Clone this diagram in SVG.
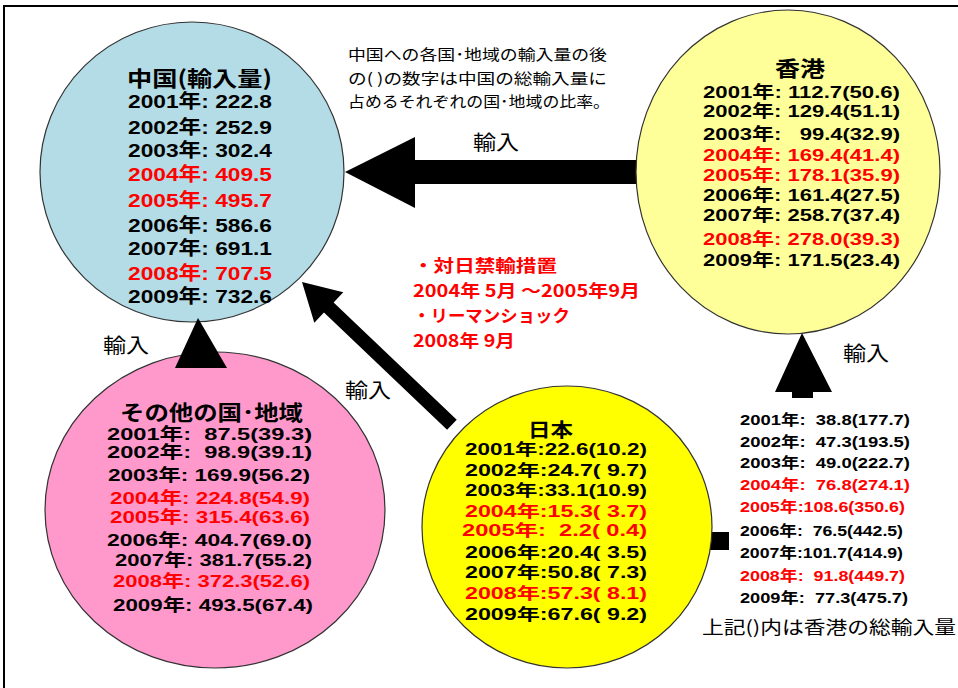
<svg xmlns="http://www.w3.org/2000/svg" width="958" height="688" viewBox="0 0 958 688">
<style>
.c{stroke:#333;stroke-width:1.2}
.d{font-family:"Liberation Sans","Noto Sans CJK JP",sans-serif;font-weight:bold;fill:#000;white-space:pre}
.t{font-family:"Noto Sans CJK JP","Noto Sans",sans-serif;font-weight:bold;fill:#000}
.r{fill:#ff0000}
.n{font-family:"Noto Sans CJK JP","Noto Sans",sans-serif;font-weight:normal;fill:#000;white-space:pre}
.a{fill:#000}
</style>
<rect x="0" y="0" width="958" height="688" fill="#fff"/>
<rect x="4" y="6" width="970" height="700" fill="none" stroke="#000" stroke-width="2"/>

<g id="connectors">
<polygon class="a" points="345,172 415,137 415,160 640,160 640,184 415,184 415,208"/>
<polygon class="a" points="0,0 37,-21 37,-7 207,-7 207,7 37,7 37,21" transform="translate(302,282) rotate(43.6)"/>
<polygon class="a" points="802,333 832,392 813,392 813,398 792,398 792,392 775,392"/>
<rect class="a" x="698" y="532" width="31" height="18"/>
<text class="n" x="473" y="150" font-size="20" textLength="46" lengthAdjust="spacingAndGlyphs">輸入</text>
<text class="n" x="345" y="398" font-size="20" textLength="46" lengthAdjust="spacingAndGlyphs">輸入</text>
<text class="n" x="103" y="353" font-size="20" textLength="46" lengthAdjust="spacingAndGlyphs">輸入</text>
<text class="n" x="843" y="361" font-size="20" textLength="46" lengthAdjust="spacingAndGlyphs">輸入</text>
</g>

<g id="china">
<ellipse class="c" cx="192" cy="172" rx="152" ry="150" fill="#b4dce6"/>
<text class="t" font-size="21" x="127" y="86" textLength="145" lengthAdjust="spacingAndGlyphs">中国(輸入量)</text>
<g font-size="19">
<text class="d" x="128" y="108" textLength="144" lengthAdjust="spacingAndGlyphs">2001年: 222.8</text>
<text class="d" x="128" y="134" textLength="144" lengthAdjust="spacingAndGlyphs">2002年: 252.9</text>
<text class="d" x="128" y="157" textLength="144" lengthAdjust="spacingAndGlyphs">2003年: 302.4</text>
<text class="d r" x="128" y="181" textLength="144" lengthAdjust="spacingAndGlyphs">2004年: 409.5</text>
<text class="d r" x="128" y="207" textLength="144" lengthAdjust="spacingAndGlyphs">2005年: 495.7</text>
<text class="d" x="128" y="232" textLength="144" lengthAdjust="spacingAndGlyphs">2006年: 586.6</text>
<text class="d" x="128" y="255" textLength="144" lengthAdjust="spacingAndGlyphs">2007年: 691.1</text>
<text class="d r" x="128" y="280" textLength="144" lengthAdjust="spacingAndGlyphs">2008年: 707.5</text>
<text class="d" x="128" y="303" textLength="144" lengthAdjust="spacingAndGlyphs">2009年: 732.6</text>
</g>
</g>

<g id="hongkong">
<ellipse class="c" cx="788" cy="172" rx="152" ry="162" fill="#ffff99"/>
<text class="t" font-size="21" x="775" y="76" textLength="50" lengthAdjust="spacingAndGlyphs">香港</text>
<g font-size="17">
<text class="d" x="703" y="98" textLength="197" lengthAdjust="spacingAndGlyphs">2001年: 112.7(50.6)</text>
<text class="d" x="703" y="117" textLength="197" lengthAdjust="spacingAndGlyphs">2002年: 129.4(51.1)</text>
<text class="d" x="703" y="140" textLength="197" lengthAdjust="spacingAndGlyphs">2003年:   99.4(32.9)</text>
<text class="d r" x="703" y="161" textLength="197" lengthAdjust="spacingAndGlyphs">2004年: 169.4(41.4)</text>
<text class="d r" x="703" y="181" textLength="197" lengthAdjust="spacingAndGlyphs">2005年: 178.1(35.9)</text>
<text class="d" x="703" y="201" textLength="197" lengthAdjust="spacingAndGlyphs">2006年: 161.4(27.5)</text>
<text class="d" x="703" y="221" textLength="197" lengthAdjust="spacingAndGlyphs">2007年: 258.7(37.4)</text>
<text class="d r" x="703" y="245" textLength="197" lengthAdjust="spacingAndGlyphs">2008年: 278.0(39.3)</text>
<text class="d" x="703" y="266" textLength="197" lengthAdjust="spacingAndGlyphs">2009年: 171.5(23.4)</text>
</g>
</g>

<g id="others">
<ellipse class="c" cx="215" cy="510" rx="170" ry="158" fill="#ff99cc"/>
<polygon class="a" points="198,318 227,368 175,368"/>
<text class="t" font-size="21" x="120" y="420" textLength="183" lengthAdjust="spacingAndGlyphs">その他の国･地域</text>
<g font-size="17">
<text class="d" x="107" y="440" textLength="205" lengthAdjust="spacingAndGlyphs">2001年:  87.5(39.3)</text>
<text class="d" x="107" y="458" textLength="205" lengthAdjust="spacingAndGlyphs">2002年:  98.9(39.1)</text>
<text class="d" x="108" y="481" textLength="202" lengthAdjust="spacingAndGlyphs">2003年: 169.9(56.2)</text>
<text class="d r" x="110" y="504" textLength="200" lengthAdjust="spacingAndGlyphs">2004年: 224.8(54.9)</text>
<text class="d r" x="110" y="523" textLength="200" lengthAdjust="spacingAndGlyphs">2005年: 315.4(63.6)</text>
<text class="d" x="107" y="546" textLength="205" lengthAdjust="spacingAndGlyphs">2006年: 404.7(69.0)</text>
<text class="d" x="115" y="566" textLength="197" lengthAdjust="spacingAndGlyphs">2007年: 381.7(55.2)</text>
<text class="d r" x="113" y="587" textLength="197" lengthAdjust="spacingAndGlyphs">2008年: 372.3(52.6)</text>
<text class="d" x="113" y="611" textLength="200" lengthAdjust="spacingAndGlyphs">2009年: 493.5(67.4)</text>
</g>
</g>

<g id="japan">
<ellipse class="c" cx="567" cy="527" rx="145" ry="141" fill="#ffff00"/>
<text class="t" font-size="19" x="528" y="437" textLength="45" lengthAdjust="spacingAndGlyphs">日本</text>
<g font-size="16">
<text class="d" x="465" y="455" textLength="182" lengthAdjust="spacingAndGlyphs">2001年:22.6(10.2)</text>
<text class="d" x="465" y="476" textLength="182" lengthAdjust="spacingAndGlyphs">2002年:24.7( 9.7)</text>
<text class="d" x="465" y="496" textLength="182" lengthAdjust="spacingAndGlyphs">2003年:33.1(10.9)</text>
<text class="d r" x="465" y="517" textLength="182" lengthAdjust="spacingAndGlyphs">2004年:15.3( 3.7)</text>
<text class="d r" x="462" y="536" textLength="185" lengthAdjust="spacingAndGlyphs">2005年:  2.2( 0.4)</text>
<text class="d" x="465" y="558" textLength="182" lengthAdjust="spacingAndGlyphs">2006年:20.4( 3.5)</text>
<text class="d" x="465" y="578" textLength="182" lengthAdjust="spacingAndGlyphs">2007年:50.8( 7.3)</text>
<text class="d r" x="465" y="599" textLength="182" lengthAdjust="spacingAndGlyphs">2008年:57.3( 8.1)</text>
<text class="d" x="465" y="620" textLength="182" lengthAdjust="spacingAndGlyphs">2009年:67.6( 9.2)</text>
</g>
</g>

<g id="japan-to-hk">
<g font-size="15">
<text class="d" x="740" y="425" textLength="170" lengthAdjust="spacingAndGlyphs">2001年:  38.8(177.7)</text>
<text class="d" x="740" y="447" textLength="170" lengthAdjust="spacingAndGlyphs">2002年:  47.3(193.5)</text>
<text class="d" x="740" y="468" textLength="170" lengthAdjust="spacingAndGlyphs">2003年:  49.0(222.7)</text>
<text class="d r" x="740" y="490" textLength="170" lengthAdjust="spacingAndGlyphs">2004年:  76.8(274.1)</text>
<text class="d r" x="740" y="512" textLength="165" lengthAdjust="spacingAndGlyphs">2005年:108.6(350.6)</text>
<text class="d" x="740" y="536" textLength="163" lengthAdjust="spacingAndGlyphs">2006年:  76.5(442.5)</text>
<text class="d" x="740" y="558" textLength="163" lengthAdjust="spacingAndGlyphs">2007年:101.7(414.9)</text>
<text class="d r" x="740" y="581" textLength="165" lengthAdjust="spacingAndGlyphs">2008年:  91.8(449.7)</text>
<text class="d" x="740" y="603" textLength="168" lengthAdjust="spacingAndGlyphs">2009年:  77.3(475.7)</text>
</g>
<text class="n" font-size="18" x="702" y="634" textLength="254" lengthAdjust="spacingAndGlyphs">上記()内は香港の総輸入量</text>
</g>

<g id="note">
<text class="n" font-size="15" x="348" y="60" textLength="259" lengthAdjust="spacingAndGlyphs">中国への各国･地域の輸入量の後</text>
<text class="n" font-size="15" x="348" y="84" textLength="259" lengthAdjust="spacingAndGlyphs">の( )の数字は中国の総輸入量に</text>
<text class="n" font-size="15" x="348" y="107" textLength="262" lengthAdjust="spacingAndGlyphs">占めるそれぞれの国･地域の比率。</text>
</g>

<g id="events">
<text class="t r" font-size="17" x="413" y="272" textLength="144" lengthAdjust="spacingAndGlyphs">・対日禁輸措置</text>
<text class="t r" font-size="17" x="413" y="297" textLength="227" lengthAdjust="spacingAndGlyphs">2004年 5月 ～2005年9月</text>
<text class="t r" font-size="17" x="413" y="322" textLength="157" lengthAdjust="spacingAndGlyphs">・リーマンショック</text>
<text class="t r" font-size="17" x="413" y="347" textLength="102" lengthAdjust="spacingAndGlyphs">2008年 9月</text>
</g>
</svg>
